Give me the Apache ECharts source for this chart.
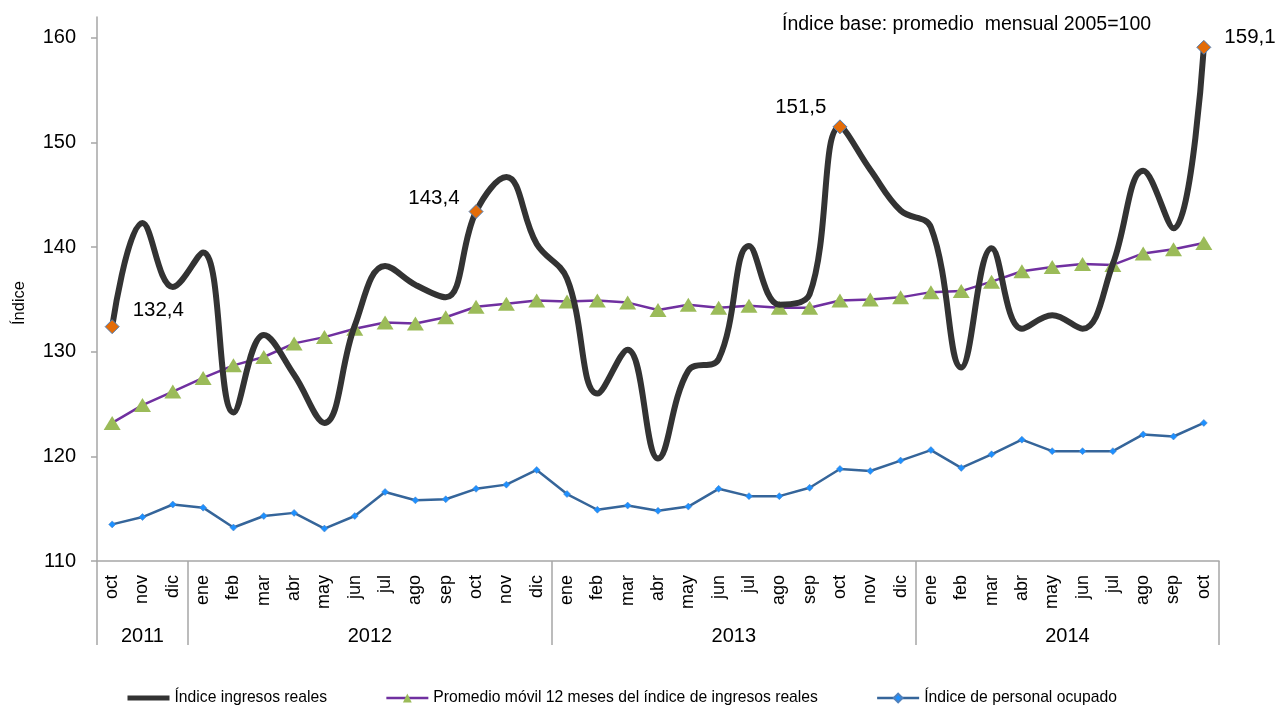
<!DOCTYPE html>
<html>
<head>
<meta charset="utf-8">
<script src="https://cdn.jsdelivr.net/npm/echarts@6/dist/echarts.min.js"></script>
<style>
html,body{margin:0;padding:0;background:#fff;}
#chart{width:1276px;height:706px;}
</style>
</head>
<body>
<div id="chart"></div>
<script>
// ---- data ----
const months = ['oct','nov','dic',
  'ene','feb','mar','abr','may','jun','jul','ago','sep','oct','nov','dic',
  'ene','feb','mar','abr','may','jun','jul','ago','sep','oct','nov','dic',
  'ene','feb','mar','abr','may','jun','jul','ago','sep','oct'];
const years = ['2011','2012','2013','2014'];
const monthsPerYear = [3, 12, 12, 10];
const yTicks = [110, 120, 130, 140, 150, 160];

const ingresosReales = [132.4,142.3,136.2,139.5,124.2,131.6,127.8,123.2,132.5,138.2,136.4,135.2,
  143.4,146.7,140.3,137.0,126.0,130.2,119.8,128.2,129.3,140.1,134.5,135.5,
  151.5,147.4,143.5,141.9,128.5,139.9,132.2,133.5,132.2,138.4,147.3,141.8,159.1];
const promedioMovil = [123.2,124.9,126.2,127.5,128.7,129.5,130.8,131.4,132.2,132.8,132.7,133.3,
  134.3,134.6,134.9,134.8,134.9,134.7,134.0,134.5,134.2,134.4,134.2,134.2,
  134.9,135.0,135.2,135.7,135.8,136.7,137.7,138.1,138.4,138.3,139.4,139.8,140.4];
const personalOcupado = [113.5,114.2,115.4,115.1,113.2,114.3,114.6,113.1,114.3,116.6,115.8,115.9,
  116.9,117.3,118.7,116.4,114.9,115.3,114.8,115.2,116.9,116.2,116.2,117.0,
  118.8,118.6,119.6,120.6,118.9,120.2,121.6,120.5,120.5,120.5,122.1,121.9,123.2];
const highlighted = [0, 12, 24, 36];

// ---- presentation ----
const FONT = '"Liberation Sans", Arial, sans-serif';
const labelPlacement = {
  0:  {position: 'right', offset: [8, -16]},
  12: {position: 'left',  offset: [-4, -13]},
  24: {position: 'left',  offset: [-1, -20]},
  36: {position: 'right', offset: [8, -10]}
};

// year boundaries / centers in category-index space
const bounds = [-0.5];
monthsPerYear.forEach(n => bounds.push(bounds[bounds.length - 1] + n));
const centers = years.map((y, i) => (bounds[i] + bounds[i + 1]) / 2);

const fmt = v => String(v.toFixed(1)).replace('.', ',');

const ingresosData = ingresosReales.map((v, i) => {
  if (highlighted.indexOf(i) < 0) return {value: v};
  const p = labelPlacement[i];
  return {
    value: v,
    symbol: 'diamond',
    symbolSize: 14,
    itemStyle: {color: '#E36C09', borderColor: '#4F81BD', borderWidth: 1},
    label: {show: true, position: p.position, offset: p.offset,
      formatter: d => fmt(d.value), fontSize: 20.5, fontFamily: FONT, color: '#000'}
  };
});

const chart = echarts.init(document.getElementById('chart'));
chart.setOption({
  animation: false,
  backgroundColor: '#fff',
  title: {
    text: 'Índice base: promedio  mensual 2005=100',
    left: 777, top: 10,
    textStyle: {fontFamily: FONT, fontSize: 19.5, fontWeight: 'normal', color: '#000'}
  },
  grid: {left: 97, right: 57, top: 17, bottom: 145},
  legend: {
    left: 120, top: 685,
    itemWidth: 42, itemHeight: 11, itemGap: 58,
    textStyle: {fontFamily: FONT, fontSize: 15.7, color: '#000'},
    data: [
      {name: 'Índice ingresos reales', itemStyle: {opacity: 0}, lineStyle: {width: 5, color: '#333333'}},
      {name: 'Promedio móvil 12 meses del índice de ingresos reales', lineStyle: {width: 2.5}},
      {name: 'Índice de personal ocupado', lineStyle: {width: 2.5}}
    ]
  },
  xAxis: [{
    type: 'category',
    data: months,
    boundaryGap: true,
    axisLine: {lineStyle: {color: '#A6A6A6', width: 1.5}},
    axisTick: {show: false},
    axisLabel: {rotate: 90, margin: 14, fontFamily: FONT, fontSize: 18, color: '#000', interval: 0}
  }, {
    type: 'value',
    position: 'bottom',
    min: bounds[0], max: bounds[bounds.length - 1],
    axisLine: {show: false},
    splitLine: {show: false},
    axisTick: {show: true, customValues: bounds, length: 84, inside: false,
      lineStyle: {color: '#A6A6A6', width: 1.5}},
    axisLabel: {customValues: centers, margin: 65, fontFamily: FONT, fontSize: 20, color: '#000',
      formatter: v => {
        const i = centers.findIndex(c => Math.abs(c - v) < 1e-6);
        return i >= 0 ? years[i] : '';
      }}
  }],
  yAxis: {
    type: 'value',
    min: 110, max: 162,
    name: 'Índice',
    nameLocation: 'middle',
    nameGap: 69,
    nameTextStyle: {fontFamily: FONT, fontSize: 16.5, color: '#000', padding: [0, 28, 0, 0]},
    axisLine: {show: true, onZero: false, lineStyle: {color: '#A6A6A6', width: 1.5}},
    axisTick: {show: true, length: 6, customValues: yTicks, lineStyle: {color: '#A6A6A6', width: 1.5}},
    axisLabel: {customValues: yTicks, margin: 21, fontFamily: FONT, fontSize: 20, color: '#000'},
    splitLine: {show: false}
  },
  series: [{
    name: 'Índice ingresos reales',
    type: 'line',
    data: ingresosData,
    smooth: 0.4,
    symbol: 'none',
    showSymbol: true,
    lineStyle: {color: '#333333', width: 6},
    itemStyle: {color: '#333333'},
    z: 3
  }, {
    name: 'Promedio móvil 12 meses del índice de ingresos reales',
    type: 'line',
    data: promedioMovil,
    symbol: 'triangle',
    symbolSize: [17, 14],
    lineStyle: {color: '#7030A0', width: 2.5},
    itemStyle: {color: '#9BBB59'},
    z: 2
  }, {
    name: 'Índice de personal ocupado',
    type: 'line',
    data: personalOcupado,
    symbol: 'diamond',
    symbolSize: 7,
    lineStyle: {color: '#35659A', width: 2.5},
    itemStyle: {color: '#1E90FF', borderColor: '#4F81BD', borderWidth: 0.5},
    z: 2
  }]
});
</script>
</body>
</html>
